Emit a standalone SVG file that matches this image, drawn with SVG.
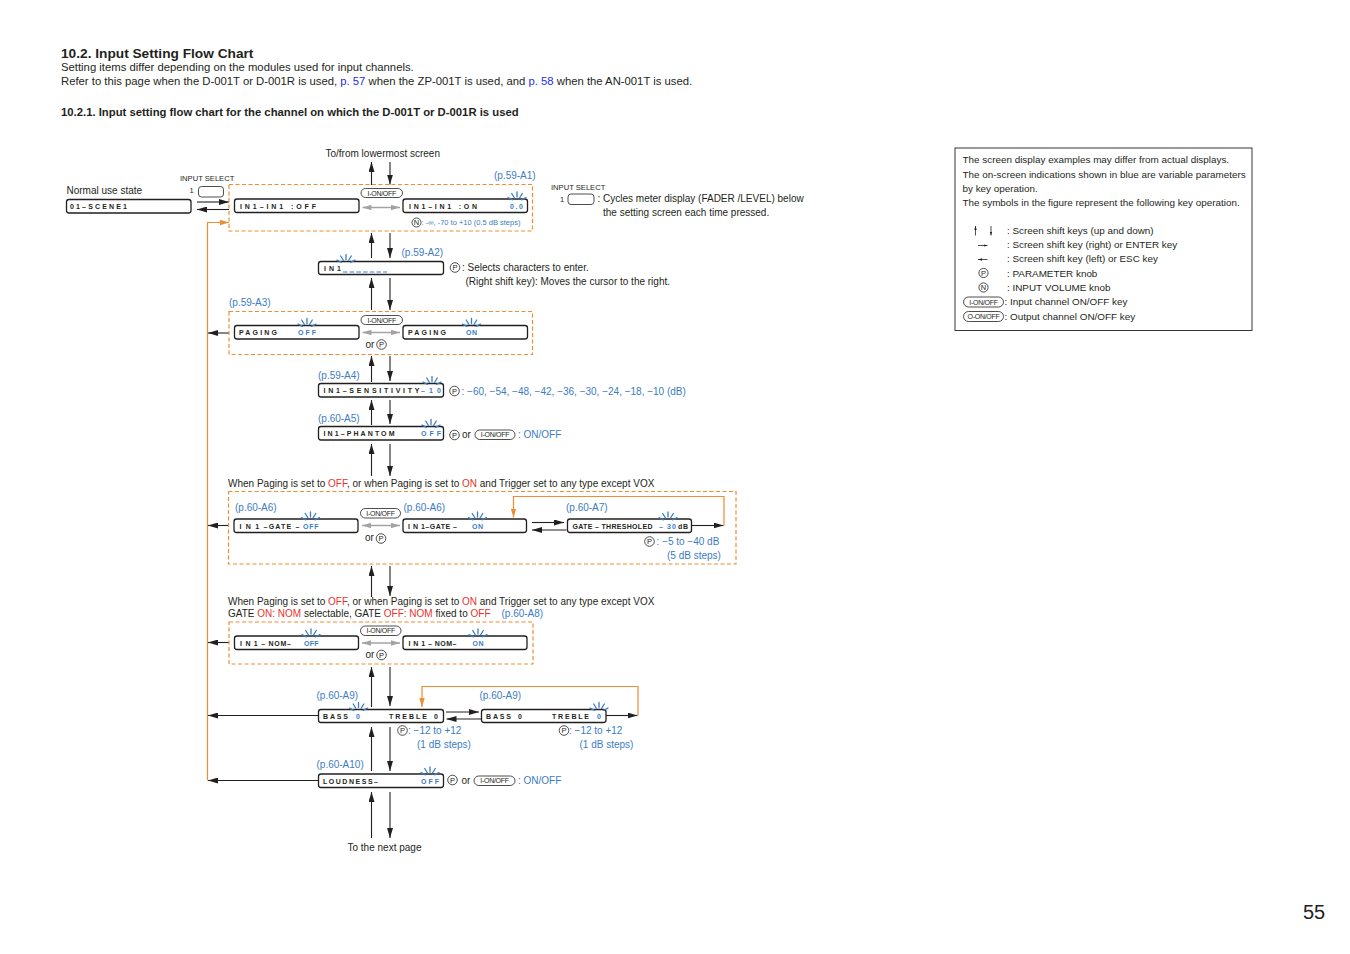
<svg xmlns="http://www.w3.org/2000/svg" width="1350" height="954" viewBox="0 0 1350 954">
<defs>
<style>
text{font-family:"Liberation Sans",Arial,Helvetica,sans-serif;fill:#231f20}
.h1{font-size:13.7px;font-weight:bold}
.p{font-size:11.3px}
.h2{font-size:11.3px;font-weight:bold}
.t{font-size:10px}
.n{font-size:9.9px}
.s{font-size:7.6px}
.sm{font-size:7.5px}
.bl{fill:#3b7cc4}
.rd{fill:#e8322b}
.lk{fill:#1f2cf0}
.d{font-size:7px;font-weight:bold}
.box{fill:#fff;stroke:#231f20;stroke-width:1.3}
.dash{fill:none;stroke:#ee8d31;stroke-width:1.2;stroke-dasharray:4 2.5}
.ol{fill:none;stroke:#ee8d31;stroke-width:1.2}
.ln{fill:none;stroke:#231f20;stroke-width:1.1}
.gl{fill:none;stroke:#a3a3a3;stroke-width:1.5}
.kc{fill:#fff;stroke:#231f20;stroke-width:0.8}
.kt{font-size:7.5px;text-anchor:middle}
.pl{fill:#fff;stroke:#231f20;stroke-width:0.8}
.pt{font-size:7px;text-anchor:middle;letter-spacing:-0.3px}
.frame{fill:none;stroke:#231f20;stroke-width:0.9}
.dl{fill:none;stroke:#3b7cc4;stroke-width:1;stroke-dasharray:4.5 2.2}
.sl{fill:none;stroke:#231f20;stroke-width:0.8}
</style>
<marker id="a" viewBox="0 0 10 6" refX="10" refY="3" markerWidth="10" markerHeight="6" markerUnits="userSpaceOnUse" orient="auto"><path d="M0,0L10,3L0,6z" fill="#231f20"/></marker>
<marker id="ao" viewBox="0 0 10 6" refX="10" refY="3" markerWidth="9" markerHeight="6" markerUnits="userSpaceOnUse" orient="auto"><path d="M0,0L10,3L0,6z" fill="#ee8d31"/></marker>
<marker id="ag" viewBox="0 0 10 6" refX="10" refY="3" markerWidth="9" markerHeight="5.5" markerUnits="userSpaceOnUse" orient="auto-start-reverse"><path d="M0,0L10,3L0,6z" fill="#a3a3a3"/></marker>
<marker id="as" viewBox="0 0 10 6" refX="10" refY="3" markerWidth="4" markerHeight="3" markerUnits="userSpaceOnUse" orient="auto"><path d="M0,0L10,3L0,6z" fill="#231f20"/></marker>
<g id="fl"><path d="M0,-5V-10M2.65,-4.24L5.3,-8.48M-2.65,-4.24L-5.3,-8.48M4.5,-2.19L9,-4.38M-4.5,-2.19L-9,-4.38" fill="none" stroke="#3b7cc4" stroke-width="1.3" stroke-linecap="round"/></g>
</defs>

<g id="header">
<text class="h1" x="61" y="58">10.2. Input Setting Flow Chart</text>
<text class="p" x="61" y="71">Setting items differ depending on the modules used for input channels.</text>
<text class="p" x="61" y="85">Refer to this page when the D-001T or D-001R is used, <tspan class="lk">p. 57</tspan> when the ZP-001T is used, and <tspan class="lk">p. 58</tspan> when the AN-001T is used.</text>
<text class="h2" x="61" y="116">10.2.1. Input setting flow chart for the channel on which the D-001T or D-001R is used</text>
</g>

<g id="connectors">
<path class="ln" marker-end="url(#a)" d="M371.5,185V162"/>
<path class="ln" marker-end="url(#a)" d="M390,162V184.5"/>
<path class="ln" marker-end="url(#a)" d="M371.5,258V233"/>
<path class="ln" marker-end="url(#a)" d="M390,233V258"/>
<path class="ln" marker-end="url(#a)" d="M371.5,310V278"/>
<path class="ln" marker-end="url(#a)" d="M390,278V310"/>
<path class="ln" marker-end="url(#a)" d="M371.5,382V356"/>
<path class="ln" marker-end="url(#a)" d="M390,356V381"/>
<path class="ln" marker-end="url(#a)" d="M371.5,425V400"/>
<path class="ln" marker-end="url(#a)" d="M390,400V424"/>
<path class="ln" marker-end="url(#a)" d="M371.5,476V444"/>
<path class="ln" marker-end="url(#a)" d="M390,444V476"/>
<path class="ln" marker-end="url(#a)" d="M371.5,597V566"/>
<path class="ln" marker-end="url(#a)" d="M390,566V596"/>
<path class="ln" marker-end="url(#a)" d="M371.5,707V667"/>
<path class="ln" marker-end="url(#a)" d="M390,667V706"/>
<path class="ln" marker-end="url(#a)" d="M371.5,771V727"/>
<path class="ln" marker-end="url(#a)" d="M390,727V771"/>
<path class="ln" marker-end="url(#a)" d="M371.5,838V792"/>
<path class="ln" marker-end="url(#a)" d="M390,792V838"/>
<path class="ln" marker-end="url(#a)" d="M197,202H229"/>
<path class="ln" marker-end="url(#a)" d="M229,209.5H197"/>
<path class="ol" marker-end="url(#ao)" d="M207.5,780.5V222.5H229"/>
<path class="ln" marker-end="url(#a)" d="M229,333H208"/>
<path class="ln" marker-end="url(#a)" d="M229,525.5H208"/>
<path class="ln" marker-end="url(#a)" d="M229,642.5H208"/>
<path class="ln" marker-end="url(#a)" d="M318,715.5H208"/>
<path class="ln" marker-end="url(#a)" d="M318,780.5H208"/>
<path class="gl" marker-start="url(#ag)" marker-end="url(#ag)" d="M362.5,207.5H400"/>
<path class="gl" marker-start="url(#ag)" marker-end="url(#ag)" d="M362.5,332.5H400"/>
<path class="gl" marker-start="url(#ag)" marker-end="url(#ag)" d="M362,525.5H400"/>
<path class="gl" marker-start="url(#ag)" marker-end="url(#ag)" d="M362,643H400"/>
<path class="ln" marker-end="url(#a)" d="M532,522.5H564"/>
<path class="ln" marker-end="url(#a)" d="M566.5,530H532"/>
<path class="ln" marker-end="url(#a)" d="M692,525.5H723.5"/>
<path class="ol" marker-end="url(#ao)" d="M724,525.5V496.5H513.5V517.5"/>
<path class="ln" marker-end="url(#a)" d="M446,712H479"/>
<path class="ln" marker-end="url(#a)" d="M481,719H446.5"/>
<path class="ln" marker-end="url(#a)" d="M606,715.5H637.5"/>
<path class="ol" marker-end="url(#ao)" d="M638,715.5V686.5H422V707"/>
</g>

<g id="groups">
<rect class="dash" x="229" y="184.5" width="303.5" height="46.5"/>
<rect class="dash" x="229" y="311.5" width="303.5" height="43"/>
<rect class="dash" x="228.5" y="491.5" width="507.5" height="72.5"/>
<rect class="dash" x="229" y="622" width="304" height="42"/>
</g>

<g id="top-label">
<text class="t" x="325.5" y="157">To/from lowermost screen</text>
</g>

<g id="normal-state">
<text class="s" x="180" y="181">INPUT SELECT</text>
<text class="s" x="189.5" y="193">1</text>
<rect class="pl" x="198.5" y="186.5" width="25" height="10.5" rx="3"/>
<text class="t" x="66.5" y="194">Normal use state</text>
<rect class="box" x="66.5" y="199.5" width="124.5" height="13.5" rx="2.5"/>
<text class="d" x="70" y="209" textLength="57" lengthAdjust="spacing">01–SCENE1</text>
</g>

<g id="a1">
<text class="t bl" x="494" y="179">(p.59-A1)</text>
<rect class="box" x="234.5" y="199" width="124.5" height="13.5" rx="2.5"/>
<text class="d" x="240" y="208.5" textLength="76" lengthAdjust="spacing">IN1–IN1  :OFF</text>
<rect class="pl" x="361" y="188.5" width="41.5" height="9" rx="4.5"/>
<text class="pt" x="381.75" y="195.5">I-ON/OFF</text>
<rect class="box" x="403" y="199" width="124.5" height="13.5" rx="2.5"/>
<text class="d" x="409" y="208.5" textLength="68" lengthAdjust="spacing">IN1–IN1  :ON</text>
<text class="d bl" x="510" y="208.5" textLength="13" lengthAdjust="spacing">0.0</text>
<use href="#fl" x="517" y="202"/>
<circle class="kc" cx="416.5" cy="222.5" r="4.5"/>
<text class="kt" x="416.5" y="225.2">N</text>
<text class="sm bl" x="421.5" y="225.3">: -∞, -70 to +10 (0.5 dB steps)</text>
</g>

<g id="input-select-note">
<text class="s" x="551" y="190">INPUT SELECT</text>
<text class="s" x="560" y="202">1</text>
<rect class="pl" x="568" y="194" width="26" height="10.5" rx="3"/>
<text class="t" x="597.5" y="202">: Cycles meter display (FADER /LEVEL) below</text>
<text class="t" x="603" y="215.5">the setting screen each time pressed.</text>
</g>

<g id="a2">
<text class="t bl" x="401.5" y="256">(p.59-A2)</text>
<rect class="box" x="318.5" y="261.5" width="125" height="13" rx="2.5"/>
<text class="d" x="324" y="271" textLength="17" lengthAdjust="spacing">IN1</text>
<use href="#fl" x="346" y="264.5"/>
<path class="dl" d="M343,272H387"/>
<circle class="kc" cx="455" cy="267.5" r="4.8"/>
<text class="kt" x="455" y="270.2">P</text>
<text class="t" x="462" y="271">: Selects characters to enter.</text>
<text class="t" x="465.5" y="285">(Right shift key): Moves the cursor to the right.</text>
</g>

<g id="a3">
<text class="t bl" x="229" y="306">(p.59-A3)</text>
<rect class="box" x="234.5" y="325.5" width="124.5" height="13.5" rx="2.5"/>
<text class="d" x="239" y="335" textLength="38" lengthAdjust="spacing">PAGING</text>
<text class="d bl" x="298" y="335" textLength="18" lengthAdjust="spacing">OFF</text>
<use href="#fl" x="307" y="328.5"/>
<rect class="pl" x="361" y="315.5" width="41.5" height="9" rx="4.5"/>
<text class="pt" x="381.75" y="322.5">I-ON/OFF</text>
<rect class="box" x="403" y="325.5" width="124.5" height="13.5" rx="2.5"/>
<text class="d" x="408" y="335" textLength="38" lengthAdjust="spacing">PAGING</text>
<text class="d bl" x="466" y="335" textLength="11" lengthAdjust="spacing">ON</text>
<use href="#fl" x="471.5" y="328.5"/>
<text class="t" x="365.5" y="348">or</text>
<circle class="kc" cx="381.5" cy="344.5" r="4.8"/>
<text class="kt" x="381.5" y="347.2">P</text>
</g>

<g id="a4">
<text class="t bl" x="318" y="379">(p.59-A4)</text>
<rect class="box" x="318.5" y="383.5" width="125" height="13.5" rx="2.5"/>
<text class="d" x="323.5" y="393" textLength="96" lengthAdjust="spacing">IN1–SENSITIVITY</text>
<text class="d bl" x="421" y="393" textLength="20" lengthAdjust="spacing">–10</text>
<use href="#fl" x="432" y="386.5"/>
<circle class="kc" cx="454.5" cy="391" r="4.8"/>
<text class="kt" x="454.5" y="393.7">P</text>
<text class="t bl" x="461.5" y="394.5">: −60, −54, −48, −42, −36, −30, −24, −18, −10 (dB)</text>
</g>

<g id="a5">
<text class="t bl" x="318" y="422">(p.60-A5)</text>
<rect class="box" x="318.5" y="426.5" width="125" height="13.5" rx="2.5"/>
<text class="d" x="323.5" y="436" textLength="71" lengthAdjust="spacing">IN1–PHANTOM</text>
<text class="d bl" x="421" y="436" textLength="20" lengthAdjust="spacing">OFF</text>
<use href="#fl" x="431" y="429.5"/>
<circle class="kc" cx="454.5" cy="435" r="4.8"/>
<text class="kt" x="454.5" y="437.7">P</text>
<text class="t" x="462" y="438">or</text>
<rect class="pl" x="475" y="430" width="40" height="9.5" rx="4.75"/>
<text class="pt" x="495" y="437.3">I-ON/OFF</text>
<text class="t bl" x="518" y="438">: ON/OFF</text>
</g>

<g id="gate-condition">
<text class="t" x="228" y="486.5">When Paging is set to <tspan class="rd">OFF</tspan>, or when Paging is set to <tspan class="rd">ON</tspan> and Trigger set to any type except VOX</text>
</g>

<g id="a6">
<text class="t bl" x="235" y="511">(p.60-A6)</text>
<rect class="box" x="234" y="519" width="124" height="13.5" rx="2.5"/>
<text class="d" x="239.5" y="528.5" textLength="60" lengthAdjust="spacing">I N 1 –GATE –</text>
<text class="d bl" x="303" y="528.5" textLength="15.5" lengthAdjust="spacing">OFF</text>
<use href="#fl" x="310.5" y="522"/>
<rect class="pl" x="360.5" y="508.5" width="40" height="9.5" rx="4.75"/>
<text class="pt" x="380.5" y="515.8">I-ON/OFF</text>
<text class="t bl" x="403.5" y="511">(p.60-A6)</text>
<rect class="box" x="403" y="519" width="123.5" height="13.5" rx="2.5"/>
<text class="d" x="408" y="528.5" textLength="49" lengthAdjust="spacing">I N 1–GATE –</text>
<text class="d bl" x="472" y="528.5" textLength="11" lengthAdjust="spacing">ON</text>
<use href="#fl" x="477.5" y="522"/>
<text class="t" x="365" y="540.5">or</text>
<circle class="kc" cx="381" cy="538.5" r="4.8"/>
<text class="kt" x="381" y="541.2">P</text>
</g>

<g id="a7">
<text class="t bl" x="566" y="511">(p.60-A7)</text>
<rect class="box" x="567.5" y="519" width="124" height="13.5" rx="2.5"/>
<text class="d" x="572.5" y="528.5" textLength="80" lengthAdjust="spacing">GATE – THRESHOLED</text>
<text class="d bl" x="659" y="528.5" textLength="17" lengthAdjust="spacing">– 30</text>
<text class="d" x="678" y="528.5" textLength="10" lengthAdjust="spacing">dB</text>
<use href="#fl" x="668" y="522"/>
<circle class="kc" cx="649.5" cy="541.5" r="4.8"/>
<text class="kt" x="649.5" y="544.2">P</text>
<text class="t bl" x="656.5" y="544.5">: −5 to −40 dB</text>
<text class="t bl" x="667" y="558.5">(5 dB steps)</text>
</g>

<g id="nom-condition">
<text class="t" x="228" y="605">When Paging is set to <tspan class="rd">OFF</tspan>, or when Paging is set to <tspan class="rd">ON</tspan> and Trigger set to any type except VOX</text>
<text class="t" x="228" y="617">GATE <tspan class="rd">ON: NOM</tspan> selectable, GATE <tspan class="rd">OFF: NOM</tspan> fixed to <tspan class="rd">OFF</tspan></text>
<text class="t bl" x="501.5" y="617">(p.60-A8)</text>
</g>

<g id="a8">
<rect class="box" x="234.5" y="636" width="124" height="13.5" rx="2.5"/>
<text class="d" x="240" y="645.5" textLength="51" lengthAdjust="spacing">I N 1 – NOM–</text>
<text class="d bl" x="304" y="645.5" textLength="14.5" lengthAdjust="spacing">OFF</text>
<use href="#fl" x="311" y="639"/>
<rect class="pl" x="360.5" y="626" width="40.5" height="9.5" rx="4.75"/>
<text class="pt" x="380.75" y="633.3">I-ON/OFF</text>
<rect class="box" x="403" y="636" width="124" height="13.5" rx="2.5"/>
<text class="d" x="408.5" y="645.5" textLength="48" lengthAdjust="spacing">I N 1 – NOM–</text>
<text class="d bl" x="472.5" y="645.5" textLength="11" lengthAdjust="spacing">ON</text>
<use href="#fl" x="478" y="639"/>
<text class="t" x="365.5" y="658">or</text>
<circle class="kc" cx="381.5" cy="655" r="4.8"/>
<text class="kt" x="381.5" y="657.7">P</text>
</g>

<g id="a9-bass">
<text class="t bl" x="316.5" y="699">(p.60-A9)</text>
<rect class="box" x="318.5" y="709.5" width="125" height="13" rx="2.5"/>
<text class="d" x="323" y="719" textLength="25" lengthAdjust="spacing">BASS</text>
<text class="d bl" x="356" y="719">0</text>
<text class="d" x="389" y="719" textLength="38" lengthAdjust="spacing">TREBLE</text>
<text class="d" x="434" y="719">0</text>
<use href="#fl" x="358.5" y="712.5"/>
<circle class="kc" cx="402.5" cy="730.5" r="4.8"/>
<text class="kt" x="402.5" y="733.2">P</text>
<text class="t bl" x="408" y="733.5">: −12 to +12</text>
<text class="t bl" x="417" y="747.5">(1 dB steps)</text>
</g>

<g id="a9-treble">
<text class="t bl" x="479.5" y="699">(p.60-A9)</text>
<rect class="box" x="481.5" y="709.5" width="124.5" height="13" rx="2.5"/>
<text class="d" x="486" y="719" textLength="25" lengthAdjust="spacing">BASS</text>
<text class="d" x="518" y="719">0</text>
<text class="d" x="552" y="719" textLength="37" lengthAdjust="spacing">TREBLE</text>
<text class="d bl" x="597" y="719">0</text>
<use href="#fl" x="599" y="712.5"/>
<circle class="kc" cx="564" cy="730.5" r="4.8"/>
<text class="kt" x="564" y="733.2">P</text>
<text class="t bl" x="569" y="733.5">: −12 to +12</text>
<text class="t bl" x="579.5" y="747.5">(1 dB steps)</text>
</g>

<g id="a10">
<text class="t bl" x="316.5" y="767.5">(p.60-A10)</text>
<rect class="box" x="318.5" y="774" width="125" height="13.5" rx="2.5"/>
<text class="d" x="323" y="783.5" textLength="55" lengthAdjust="spacing">LOUDNESS–</text>
<text class="d bl" x="421" y="783.5" textLength="18" lengthAdjust="spacing">OFF</text>
<use href="#fl" x="430" y="777"/>
<circle class="kc" cx="452.5" cy="780" r="4.8"/>
<text class="kt" x="452.5" y="782.7">P</text>
<text class="t" x="461.5" y="783.5">or</text>
<rect class="pl" x="474" y="776" width="41" height="9.5" rx="4.75"/>
<text class="pt" x="494.5" y="783.3">I-ON/OFF</text>
<text class="t bl" x="518" y="784">: ON/OFF</text>
</g>

<g id="bottom-label">
<text class="t" x="347.5" y="851">To the next page</text>
</g>

<g id="legend">
<rect class="frame" x="955" y="148" width="297" height="182.5"/>
<text class="n" x="962.5" y="163">The screen display examples may differ from actual displays.</text>
<text class="n" x="962.5" y="177.5">The on-screen indications shown in blue are variable parameters</text>
<text class="n" x="962.5" y="191.5">by key operation.</text>
<text class="n" x="962.5" y="205.5">The symbols in the figure represent the following key operation.</text>
<path class="sl" marker-end="url(#as)" d="M975.5,235.5V226"/>
<path class="sl" marker-end="url(#as)" d="M991,226V235.5"/>
<text class="n" x="1007" y="234">: Screen shift keys (up and down)</text>
<path class="sl" marker-end="url(#as)" d="M978,245.5H987.5"/>
<text class="n" x="1007" y="248">: Screen shift key (right) or ENTER key</text>
<path class="sl" marker-end="url(#as)" d="M987.5,259.5H978"/>
<text class="n" x="1007" y="262">: Screen shift key (left) or ESC key</text>
<circle class="kc" cx="983.5" cy="273" r="4.6"/>
<text class="kt" x="983.5" y="275.7">P</text>
<text class="n" x="1007" y="276.5">: PARAMETER knob</text>
<circle class="kc" cx="983.5" cy="287.5" r="4.6"/>
<text class="kt" x="983.5" y="290.2">N</text>
<text class="n" x="1007" y="291">: INPUT VOLUME knob</text>
<rect class="pl" x="963.5" y="297" width="40" height="10" rx="5"/>
<text class="pt" x="983.5" y="304.5">I-ON/OFF</text>
<text class="n" x="1004.5" y="305">: Input channel ON/OFF key</text>
<rect class="pl" x="963.5" y="311.5" width="40" height="10" rx="5"/>
<text class="pt" x="983.5" y="319">O-ON/OFF</text>
<text class="n" x="1004.5" y="319.5">: Output channel ON/OFF key</text>
</g>

<g id="page-number">
<text x="1303" y="919" style="font-size:20px">55</text>
</g>
</svg>
